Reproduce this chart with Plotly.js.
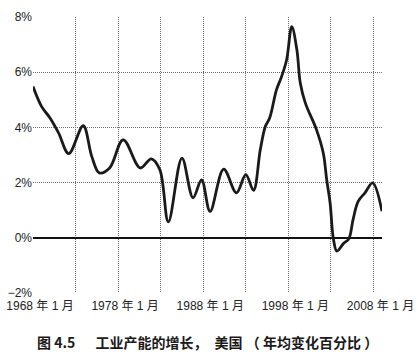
<!DOCTYPE html>
<html><head><meta charset="utf-8">
<script src="https://cdn.plot.ly/plotly-3.0.1.min.js"></script>
<style>body{margin:0;background:#fff}#c{width:420px;height:360px}</style>
</head><body><div id="c"></div>
<script>
const years = [1968.0,1969.0,1970.0,1971.0,1972.2,1973.9,1974.9,1975.8,1977.0,1978.6,1980.6,1981.9,1982.9,1983.9,1985.5,1986.8,1987.8,1988.8,1990.4,1991.9,1993.0,1993.9,1994.7,1995.3,1995.8,1996.6,1997.2,1997.8,1998.4,1999.0,1999.4,2000.0,2001.3,2002.1,2002.5,2002.9,2003.3,2003.7,2004.5,2005.1,2005.6,2006.2,2007.0,2007.9,2009.0];
const growth = [5.48,4.76,4.34,3.80,3.05,4.06,2.95,2.35,2.53,3.55,2.53,2.86,2.47,0.58,2.89,1.45,2.10,0.96,2.49,1.63,2.29,1.72,3.19,4.04,4.34,5.36,5.84,6.45,7.65,6.81,5.61,4.88,3.92,3.07,2.11,1.27,-0.06,-0.48,-0.20,-0.04,0.66,1.32,1.63,1.99,0.96];
const gridYears = [1968,1973,1978,1983,1988,1993,1998,2003,2008];
const gridLabels = ['1968 年 1 月','','1978 年 1 月','','1988 年 1 月','','1998 年 1 月','','2008 年 1 月'];
const yTicks = [-2,0,2,4,6,8];
const yLabels = ['−2%','0%','2%','4%','6%','8%'];
const caption = '图 4.5 　 工业产能的增长，　美国 （ 年均变化百分比 ）';

const tickFont = {family:'Liberation Sans, Arial, Noto Sans CJK SC, sans-serif', size:12, color:'#222'};
Plotly.newPlot('c', [{
  x: years, y: growth, type:'scatter', mode:'lines',
  line:{color:'#1a1a1a', width:2.8, shape:'spline', smoothing:1.0},
  hoverinfo:'skip'
}], {
  width:420, height:360,
  margin:{l:33, r:38, t:17, b:67},
  paper_bgcolor:'#fff', plot_bgcolor:'#fff',
  showlegend:false,
  xaxis:{range:[1968,2009], tickmode:'array', tickvals:gridYears, ticktext:gridLabels,
    showgrid:true, gridcolor:'#6e6e6e', griddash:'1px,1px', gridwidth:1,
    zeroline:false, showline:false, ticks:'', tickfont:tickFont, ticklabelshift:7, ticklabelstandoff:4},
  yaxis:{range:[-2,8], tickmode:'array', tickvals:yTicks, ticktext:yLabels,
    showgrid:true, gridcolor:'#6e6e6e', griddash:'1px,1px', gridwidth:1,
    zeroline:true, zerolinecolor:'#111', zerolinewidth:1.6, showline:false, ticks:'', tickfont:tickFont},
  annotations:[{text:caption, xref:'paper', yref:'paper', x:0.5, y:-0.178, yanchor:'middle', showarrow:false,
    font:{family:'Noto Sans CJK SC, sans-serif', size:14, color:'#1a1a1a', weight:'bold'}}]
}, {displayModeBar:false, staticPlot:true});
</script></body></html>
